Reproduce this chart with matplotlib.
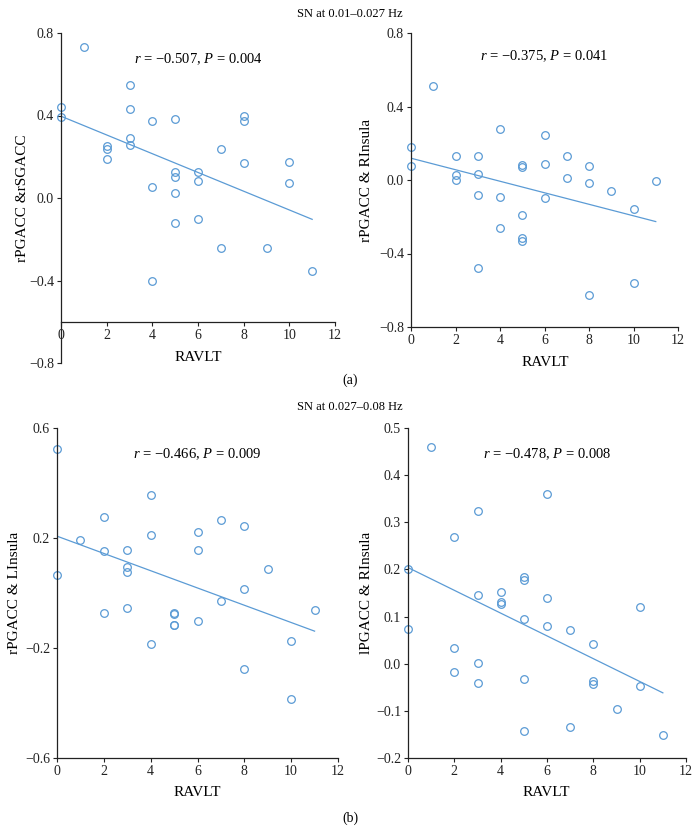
import numpy as np
import matplotlib
matplotlib.use("Agg")
import matplotlib.pyplot as plt

plt.rcParams['font.family'] = ['Liberation Serif', 'DejaVu Serif']
plt.rcParams['mathtext.fontset'] = 'custom'
plt.rcParams['mathtext.rm'] = 'Liberation Serif'
plt.rcParams['mathtext.it'] = 'Liberation Serif:italic'

# ---- data ----
a1_x = [0, 0, 1, 2, 2, 2, 3, 3, 3, 3, 4, 4, 4, 5, 5, 5, 5, 5, 6, 6, 6, 7, 7, 8, 8, 8, 9, 10, 10, 11]
a1_y = [0.44, 0.393, 0.73, 0.25, 0.236, 0.187, 0.548, 0.43, 0.29, 0.259, 0.373, 0.052, -0.402,
        0.383, 0.124, 0.10, 0.023, -0.121, 0.126, 0.081, -0.103, 0.239, -0.241, 0.398, 0.373,
        0.168, -0.241, 0.176, 0.071, -0.354]

a2_x = [0, 0, 1, 2, 2, 2, 3, 3, 3, 3, 4, 4, 4, 5, 5, 5, 5, 5, 6, 6, 6, 7, 7, 8, 8, 8, 9, 10, 10, 11]
a2_y = [0.182, 0.075, 0.513, 0.131, 0.025, 0.0, 0.131, 0.035, -0.084, -0.478, 0.28, -0.093, -0.262,
        0.082, 0.069, -0.191, -0.313, -0.331, 0.245, 0.085, -0.10, 0.129, 0.009, 0.076, -0.015,
        -0.627, -0.058, -0.158, -0.56, -0.004]

b1_x = [0, 0, 1, 2, 2, 2, 3, 3, 3, 3, 4, 4, 4, 5, 5, 5, 5, 6, 6, 6, 7, 7, 8, 8, 8, 9, 10, 10, 11]
b1_y = [0.525, 0.064, 0.192, 0.275, 0.153, -0.072, 0.158, 0.095, 0.075, -0.055, 0.355, 0.211, -0.185,
        -0.073, -0.076, -0.116, -0.116, 0.221, 0.158, -0.10, 0.267, -0.029, 0.245, 0.016, -0.278,
        0.088, -0.175, -0.384, -0.061]

b2_x = [0, 0, 1, 2, 2, 2, 3, 3, 3, 3, 4, 4, 4, 5, 5, 5, 5, 5, 6, 6, 6, 7, 7, 8, 8, 8, 9, 10, 10, 11]
b2_y = [0.2015, 0.074, 0.46, 0.268, 0.0325, -0.018, 0.325, 0.146, 0.001, -0.041, 0.153, 0.131, 0.127,
        0.185, 0.177, 0.095, -0.033, -0.143, 0.361, 0.139, 0.08, 0.071, -0.134, 0.041, -0.036,
        -0.042, -0.095, 0.12, -0.047, -0.152]

labels = ["rPGACC &rSGACC", "rPGACC & RInsula", "rPGACC & LInsula", "lPGACC & RInsula"]
stats = [r"$r$ = −0.507, $P$ = 0.004", r"$r$ = −0.375, $P$ = 0.041",
         r"$r$ = −0.466, $P$ = 0.009", r"$r$ = −0.478, $P$ = 0.008"]
xticks = [0, 2, 4, 6, 8, 10, 12]
yticks_list = [[-0.8, -0.4, 0.0, 0.4, 0.8], [-0.8, -0.4, 0.0, 0.4, 0.8],
               [-0.6, -0.2, 0.2, 0.6], [-0.2, -0.1, 0.0, 0.1, 0.2, 0.3, 0.4, 0.5]]
ylims = [(-0.8, 0.8), (-0.8, 0.8), (-0.6, 0.6), (-0.2, 0.5)]
xspine_at = [-0.6, -0.8, -0.6, -0.2]
titles = ["SN at 0.01–0.027 Hz", "SN at 0.027–0.08 Hz"]

W, H = 700, 840
fig = plt.figure(figsize=(7, 8.4), dpi=100)

# axes boxes in pixels: left, top, right, bottom
boxes = [(61, 33, 335, 363), (411, 33, 678, 327), (57, 428, 338, 758), (408, 428, 686, 758)]
datas = [(a1_x, a1_y), (a2_x, a2_y), (b1_x, b1_y), (b2_x, b2_y)]
ylab_x = [23, 367, 15, 367]
col = '#5b9bd5'

for i, ((l, t, r, b), (xs, ys)) in enumerate(zip(boxes, datas)):
    ax = fig.add_axes([l / W, 1 - b / H, (r - l) / W, (b - t) / H])
    xs = np.array(xs, float); ys = np.array(ys, float)
    ax.plot(xs, ys, 'o', mfc='none', mec=col, mew=0.9, ms=5.5, clip_on=False)
    k, c = np.polyfit(xs, ys, 1)
    xl = np.array([0, 11])
    ax.plot(xl, k * xl + c, color=col, lw=0.9)
    ax.set_xlim(0, 12)
    ax.set_ylim(*ylims[i])
    ax.set_xticks(xticks)
    ax.set_yticks(yticks_list[i])
    ax.set_yticklabels([f"{v:.1f}".replace('-', '−') for v in yticks_list[i]])
    for s in ['top', 'right']:
        ax.spines[s].set_visible(False)
    ax.spines['bottom'].set_position(('data', xspine_at[i]))
    for s in ['left', 'bottom']:
        ax.spines[s].set_linewidth(0.9)
        ax.spines[s].set_color('#222222')
    ax.tick_params(direction='out', length=3, width=0.8, labelsize=10, colors='#222222', pad=2)
    ax.text(0.5, 0.92, stats[i], transform=ax.transAxes, ha='center', va='center', fontsize=10.5)
    ax.patch.set_alpha(0)
    # y label
    cy = (t + b) / 2
    fig.text(ylab_x[i] / W, 1 - cy / H, labels[i], rotation=90, ha='center', va='center', fontsize=11)

# x labels
for (x, y) in [(198, 357), (545, 362), (197, 792), (546, 792)]:
    fig.text(x / W, 1 - y / H, "RAVLT", ha='center', va='center', fontsize=11)

fig.text(0.5, 1 - 14 / H, titles[0], ha='center', va='center', fontsize=9)
fig.text(0.5, 1 - 407 / H, titles[1], ha='center', va='center', fontsize=9)
fig.text(0.5, 1 - 380 / H, "(a)", ha='center', va='center', fontsize=10)
fig.text(0.5, 1 - 818 / H, "(b)", ha='center', va='center', fontsize=10)

fig.savefig("out.png", dpi=100)
